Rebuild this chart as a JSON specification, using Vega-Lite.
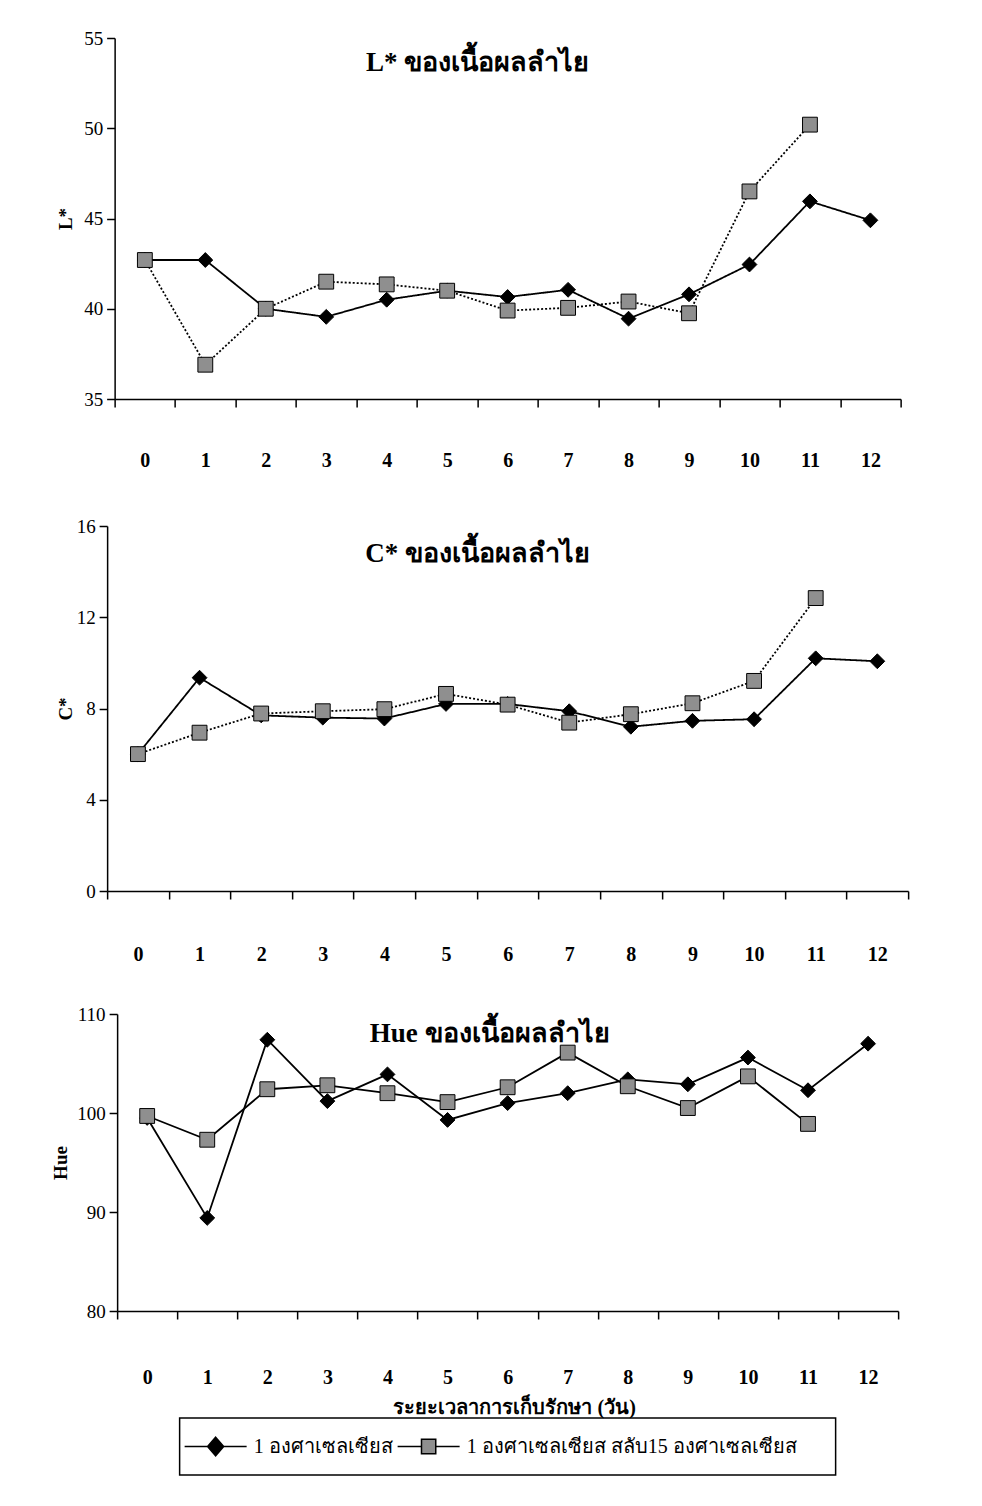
{
  "$schema": "https://vega.github.io/schema/vega-lite/v6.json",
  "padding": {"left": 51, "top": 29, "right": 10, "bottom": 10},
  "background": "white",
  "datasets": {
    "d": [
      {"day": 0, "series": "1 องศาเซลเซียส", "L": 42.7, "C": 6.0, "Hue": 99.5},
      {"day": 1, "series": "1 องศาเซลเซียส", "L": 42.7, "C": 9.35, "Hue": 89.4},
      {"day": 2, "series": "1 องศาเซลเซียส", "L": 40.0, "C": 7.7, "Hue": 107.4},
      {"day": 3, "series": "1 องศาเซลเซียส", "L": 39.55, "C": 7.6, "Hue": 101.2},
      {"day": 4, "series": "1 องศาเซลเซียส", "L": 40.5, "C": 7.56, "Hue": 103.9},
      {"day": 5, "series": "1 องศาเซลเซียส", "L": 41.0, "C": 8.2, "Hue": 99.3},
      {"day": 6, "series": "1 องศาเซลเซียส", "L": 40.65, "C": 8.2, "Hue": 101.0},
      {"day": 7, "series": "1 องศาเซลเซียส", "L": 41.05, "C": 7.88, "Hue": 102.0},
      {"day": 8, "series": "1 องศาเซลเซียส", "L": 39.45, "C": 7.2, "Hue": 103.4},
      {"day": 9, "series": "1 องศาเซลเซียส", "L": 40.8, "C": 7.46, "Hue": 102.9},
      {"day": 10, "series": "1 องศาเซลเซียส", "L": 42.45, "C": 7.53, "Hue": 105.6},
      {"day": 11, "series": "1 องศาเซลเซียส", "L": 45.95, "C": 10.2, "Hue": 102.3},
      {"day": 12, "series": "1 องศาเซลเซียส", "L": 44.9, "C": 10.07, "Hue": 107.0},
      {"day": 0, "series": "1 องศาเซลเซียส สลับ15 องศาเซลเซียส", "L": 42.7, "C": 6.0, "Hue": 99.7},
      {"day": 1, "series": "1 องศาเซลเซียส สลับ15 องศาเซลเซียส", "L": 36.9, "C": 6.94, "Hue": 97.3},
      {"day": 2, "series": "1 องศาเซลเซียส สลับ15 องศาเซลเซียส", "L": 40.0, "C": 7.78, "Hue": 102.4},
      {"day": 3, "series": "1 องศาเซลเซียส สลับ15 องศาเซลเซียส", "L": 41.5, "C": 7.88, "Hue": 102.8},
      {"day": 4, "series": "1 องศาเซลเซียส สลับ15 องศาเซลเซียส", "L": 41.35, "C": 7.97, "Hue": 102.0},
      {"day": 5, "series": "1 องศาเซลเซียส สลับ15 องศาเซลเซียส", "L": 41.0, "C": 8.64, "Hue": 101.1},
      {"day": 6, "series": "1 องศาเซลเซียส สลับ15 องศาเซลเซียส", "L": 39.9, "C": 8.17, "Hue": 102.6},
      {"day": 7, "series": "1 องศาเซลเซียส สลับ15 องศาเซลเซียส", "L": 40.05, "C": 7.38, "Hue": 106.1},
      {"day": 8, "series": "1 องศาเซลเซียส สลับ15 องศาเซลเซียส", "L": 40.4, "C": 7.75, "Hue": 102.7},
      {"day": 9, "series": "1 องศาเซลเซียส สลับ15 องศาเซลเซียส", "L": 39.75, "C": 8.23, "Hue": 100.5},
      {"day": 10, "series": "1 องศาเซลเซียส สลับ15 องศาเซลเซียส", "L": 46.5, "C": 9.21, "Hue": 103.7},
      {"day": 11, "series": "1 องศาเซลเซียส สลับ15 องศาเซลเซียส", "L": 50.2, "C": 12.84, "Hue": 98.9}
    ],
    "leg": [
      {"series": "1 องศาเซลเซียส"},
      {"series": "1 องศาเซลเซียส สลับ15 องศาเซลเซียส"}
    ]
  },
  "spacing": 10,
  "center": true,
  "vconcat": [
    {
      "width": 786,
      "height": 361,
      "data": {"name": "d"},
      "title": {"text": "L* ของเนื้อผลลำไย", "dx": -30, "dy": 52},
      "encoding": {
        "x": {"field": "day", "type": "ordinal", "scale": {"paddingInner": 0, "paddingOuter": 0},
              "axis": {"title": " ", "titlePadding": 18, "labelAngle": 0, "tickBand": "extent", "tickSize": 8, "labelPadding": 43, "labelFontWeight": "bold", "labelFontSize": 20}},
        "y": {"field": "L", "type": "quantitative", "title": "L*", "scale": {"domain": [35, 55], "nice": false, "zero": false},
              "axis": {"values": [35, 40, 45, 50, 55], "tickSize": 8, "labelPadding": 4, "titlePadding": 8}}
      },
      "layer": [
        {
          "mark": {"type": "line", "color": "black", "strokeWidth": 1.8},
          "encoding": {
            "detail": {"field": "series"},
            "strokeDash": {"field": "series", "scale": {"domain": ["1 องศาเซลเซียส", "1 องศาเซลเซียส สลับ15 องศาเซลเซียส"], "range": [[1, 0], [2, 2]]}, "legend": null}
          }
        },
        {
          "mark": {"type": "point", "filled": true, "stroke": "black", "strokeWidth": 1, "opacity": 1, "size": 220},
          "encoding": {
            "shape": {"field": "series", "type": "nominal", "scale": {"domain": ["1 องศาเซลเซียส", "1 องศาเซลเซียส สลับ15 องศาเซลเซียส"], "range": ["diamond", "square"]}, "legend": null},
            "fill": {"field": "series", "type": "nominal", "scale": {"domain": ["1 องศาเซลเซียส", "1 องศาเซลเซียส สลับ15 องศาเซลเซียส"], "range": ["black", "#8f8f8f"]}, "legend": null}
          }
        }
      ]
    },
    {
      "width": 801,
      "height": 365,
      "data": {"name": "d"},
      "title": {"text": "C* ของเนื้อผลลำไย", "dx": -30, "dy": 55},
      "encoding": {
        "x": {"field": "day", "type": "ordinal", "scale": {"paddingInner": 0, "paddingOuter": 0},
              "axis": {"title": " ", "titlePadding": 12, "labelAngle": 0, "tickBand": "extent", "tickSize": 8, "labelPadding": 45, "labelFontWeight": "bold", "labelFontSize": 20}},
        "y": {"field": "C", "type": "quantitative", "title": "C*", "scale": {"domain": [0, 16], "nice": false},
              "axis": {"values": [0, 4, 8, 12, 16], "tickSize": 8, "labelPadding": 4, "titlePadding": 1}}
      },
      "layer": [
        {
          "mark": {"type": "line", "color": "black", "strokeWidth": 1.8},
          "encoding": {
            "detail": {"field": "series"},
            "strokeDash": {"field": "series", "scale": {"domain": ["1 องศาเซลเซียส", "1 องศาเซลเซียส สลับ15 องศาเซลเซียส"], "range": [[1, 0], [2, 2]]}, "legend": null}
          }
        },
        {
          "mark": {"type": "point", "filled": true, "stroke": "black", "strokeWidth": 1, "opacity": 1, "size": 220},
          "encoding": {
            "shape": {"field": "series", "type": "nominal", "scale": {"domain": ["1 องศาเซลเซียส", "1 องศาเซลเซียส สลับ15 องศาเซลเซียส"], "range": ["diamond", "square"]}, "legend": null},
            "fill": {"field": "series", "type": "nominal", "scale": {"domain": ["1 องศาเซลเซียส", "1 องศาเซลเซียส สลับ15 องศาเซลเซียส"], "range": ["black", "#8f8f8f"]}, "legend": null}
          }
        }
      ]
    },
    {
      "width": 781,
      "height": 297,
      "data": {"name": "d"},
      "title": {"text": "Hue ของเนื้อผลลำไย", "dx": -18, "dy": 47},
      "encoding": {
        "x": {"field": "day", "type": "ordinal", "scale": {"paddingInner": 0, "paddingOuter": 0},
              "axis": {"title": null, "labelAngle": 0, "tickBand": "extent", "tickSize": 8, "labelPadding": 48, "labelFontWeight": "bold", "labelFontSize": 20}},
        "y": {"field": "Hue", "type": "quantitative", "title": "Hue", "scale": {"domain": [80, 110], "nice": false, "zero": false},
              "axis": {"values": [80, 90, 100, 110], "tickSize": 8, "labelPadding": 4, "titlePadding": 6}}
      },
      "layer": [
        {
          "mark": {"type": "line", "color": "black", "strokeWidth": 1.8},
          "encoding": {"detail": {"field": "series"}}
        },
        {
          "mark": {"type": "point", "filled": true, "stroke": "black", "strokeWidth": 1, "opacity": 1, "size": 220},
          "encoding": {
            "shape": {"field": "series", "type": "nominal", "scale": {"domain": ["1 องศาเซลเซียส", "1 องศาเซลเซียส สลับ15 องศาเซลเซียส"], "range": ["diamond", "square"]}, "legend": null},
            "fill": {"field": "series", "type": "nominal", "scale": {"domain": ["1 องศาเซลเซียส", "1 องศาเซลเซียส สลับ15 องศาเซลเซียส"], "range": ["black", "#8f8f8f"]}, "legend": null}
          }
        }
      ]
    },
    {
      "width": 656,
      "height": 57,
      "data": {"name": "leg"},
      "view": {"stroke": "black", "strokeWidth": 1.5},
      "title": {"text": "ระยะเวลาการเก็บรักษา (วัน)", "fontSize": 20, "offset": 0, "dx": 7},
      "encoding": {
        "x": {"field": "series", "type": "nominal", "axis": null,
              "scale": {"domain": ["1 องศาเซลเซียส", "1 องศาเซลเซียส สลับ15 องศาเซลเซียส"], "range": [36, 249], "padding": 0}}
      },
      "layer": [
        {
          "transform": [{"filter": "datum.series === '1 องศาเซลเซียส'"}],
          "mark": {"type": "point", "filled": true, "opacity": 1, "fill": "black", "stroke": "black", "strokeWidth": 1.5, "size": 3844,
                   "shape": "M-1,0H-0.26M0.26,0H1M0,-0.3L0.26,0L0,0.3L-0.26,0Z"}
        },
        {
          "transform": [{"filter": "datum.series !== '1 องศาเซลเซียส'"}],
          "mark": {"type": "point", "filled": true, "opacity": 1, "fill": "#8f8f8f", "stroke": "black", "strokeWidth": 1.5, "size": 3844,
                   "shape": "M-1,0H-0.23M0.23,0H1M-0.23,-0.23H0.23V0.23H-0.23Z"}
        },
        {
          "mark": {"type": "text", "align": "left", "baseline": "middle", "dx": 38, "font": "Liberation Serif", "fontSize": 20, "color": "black"},
          "encoding": {"text": {"field": "series"}}
        }
      ]
    }
  ],
  "config": {
    "font": "Liberation Serif",
    "view": {"stroke": null},
    "title": {"font": "Liberation Serif", "fontSize": 27, "fontWeight": "bold", "color": "black", "anchor": "middle"},
    "axis": {"domainColor": "black", "tickColor": "black", "labelColor": "black", "titleColor": "black",
             "labelFont": "Liberation Serif", "titleFont": "Liberation Serif", "labelFontSize": 19, "titleFontSize": 19,
             "titleFontWeight": "bold", "grid": false, "domainWidth": 1.5, "tickWidth": 1.5}
  }
}
